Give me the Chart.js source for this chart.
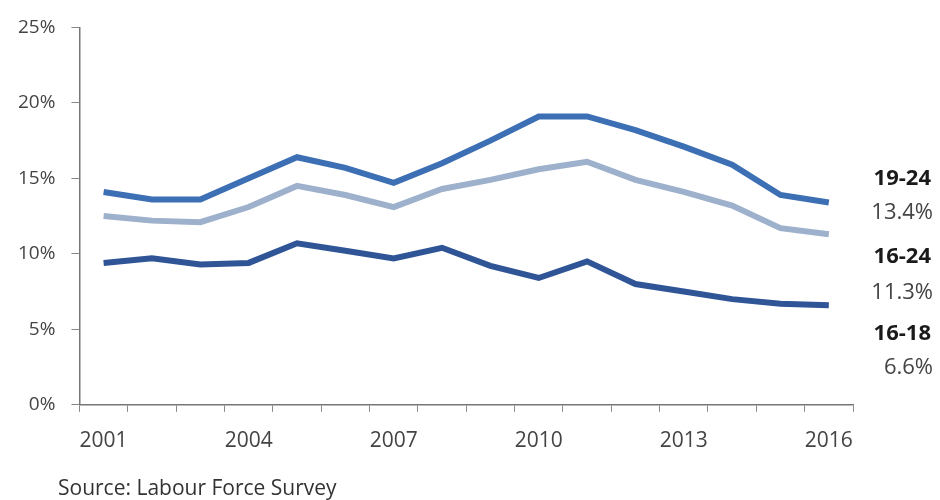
<!DOCTYPE html>
<html>
<head>
<meta charset="utf-8">
<script src="https://cdn.jsdelivr.net/npm/chart.js@4/dist/chart.umd.min.js"></script>
<style>
  html, body { margin: 0; padding: 0; background: #fff; }
  #wrap { width: 940px; height: 500px; position: relative; }
</style>
</head>
<body>
<div id="wrap"><canvas id="myChart"></canvas></div>
<script>
// data
var years = ['2001','2002','2003','2004','2005','2006','2007','2008','2009','2010','2011','2012','2013','2014','2015','2016'];
var shownYears = ['2001','2004','2007','2010','2013','2016'];
var age1924 = [14.1, 13.6, 13.6, 15.0, 16.4, 15.7, 14.7, 16.0, 17.5, 19.1, 19.1, 18.2, 17.1, 15.9, 13.9, 13.4];
var age1624 = [12.5, 12.2, 12.1, 13.1, 14.5, 13.9, 13.1, 14.3, 14.9, 15.6, 16.1, 14.9, 14.1, 13.2, 11.7, 11.3];
var age1618 = [9.4, 9.7, 9.3, 9.4, 10.7, 10.2, 9.7, 10.4, 9.2, 8.4, 9.5, 8.0, 7.5, 7.0, 6.7, 6.6];
var endLabels = [
  { name: '19-24', value: '13.4%', y1: 179, y2: 213 },
  { name: '16-24', value: '11.3%', y1: 257, y2: 293 },
  { name: '16-18', value: '6.6%', y1: 334, y2: 368 }
];

var fontFam = '"Open Sans", sans-serif';

// right-hand labels and the source line
var sidePlugin = {
  id: 'sideText',
  afterDraw: function(chart) {
    var c = chart.ctx;
    c.save();
    c.textAlign = 'right';
    c.textBaseline = 'middle';
    endLabels.forEach(function(l) {
      c.fillStyle = '#1a1a1a';
      c.font = 'bold 22px ' + fontFam;
      c.fillText(l.name, 931, l.y1);
      c.fillStyle = '#444';
      c.font = '22px ' + fontFam;
      c.fillText(l.value, 933, l.y2);
    });
    c.textAlign = 'left';
    c.fillStyle = '#333';
    c.font = '21px ' + fontFam;
    c.fillText('Source: Labour Force Survey', 58, 489);
    c.restore();
  }
};

var ctx = document.getElementById('myChart').getContext('2d');
var chart = new Chart(ctx, {
  type: 'line',
  data: {
    labels: years,
    datasets: [{
      label: '19-24',
      data: age1924,
      borderColor: '#3c6fb4',
      borderWidth: 6,
      pointRadius: 0,
      tension: 0
    }, {
      label: '16-24',
      data: age1624,
      borderColor: '#9db0cc',
      borderWidth: 6,
      pointRadius: 0,
      tension: 0
    }, {
      label: '16-18',
      data: age1618,
      borderColor: '#2f5597',
      borderWidth: 6,
      pointRadius: 0,
      tension: 0
    }]
  },
  options: {
    responsive: true,
    maintainAspectRatio: false,
    animation: false,
    layout: { padding: { left: 2, right: 87, top: 0, bottom: 29 } },
    plugins: { legend: { display: false }, tooltip: { enabled: false } },
    scales: {
      x: {
        offset: true,
        grid: { offset: true, drawOnChartArea: false, tickLength: 7, color: '#888', tickColor: '#888' },
        border: { color: '#777', width: 1.5 },
        ticks: {
          autoSkip: false,
          maxRotation: 0,
          padding: 17,
          color: '#444',
          font: { family: fontFam, size: 21 },
          callback: function(v, i) {
            var y = years[i];
            return shownYears.indexOf(y) >= 0 ? y : '';
          }
        }
      },
      y: {
        min: 0,
        max: 25,
        grid: { drawOnChartArea: false, tickLength: 8, color: '#888', tickColor: '#888' },
        border: { color: '#777', width: 1.5 },
        ticks: {
          stepSize: 5,
          padding: 16,
          color: '#444',
          font: { family: fontFam, size: 19 },
          callback: function(v) { return v + '%'; }
        }
      }
    }
  },
  plugins: [sidePlugin]
});
</script>
</body>
</html>
